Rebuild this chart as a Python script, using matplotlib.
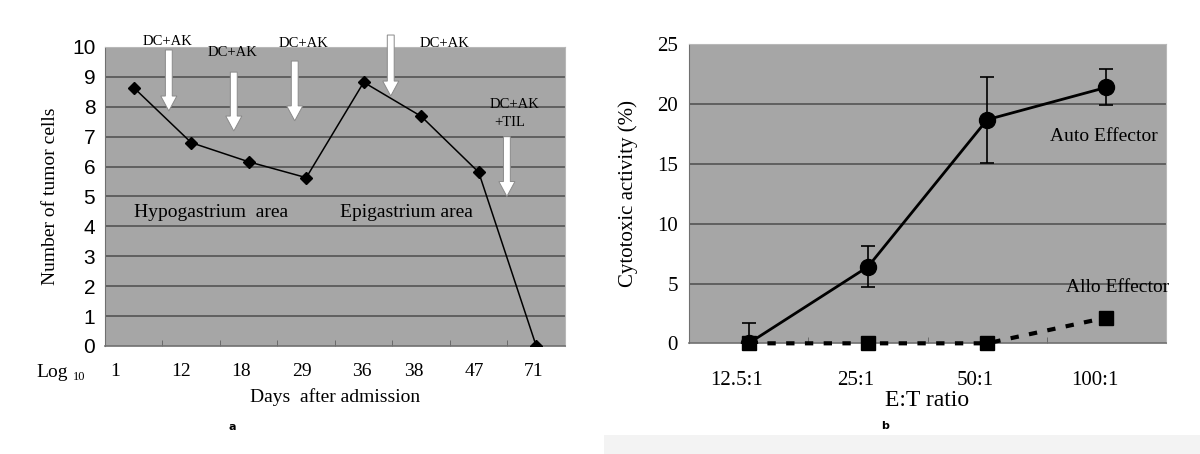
import matplotlib
matplotlib.use("Agg")
import matplotlib.pyplot as plt
import matplotlib.patches as mpatches
import numpy as np

# ---- panel a data ----
days = ["1", "12", "18", "29", "36", "38", "47", "71"]
tumor_cells = [8.64, 6.80, 6.16, 5.63, 8.82, 7.68, 5.81, 0.0]
# the day labels were typed a little left of each category
day_label_pos = [-0.33, 0.82, 1.87, 2.93, 3.97, 4.87, 5.92, 6.96]

# treatment arrows: category position, top, tip
arrow_x = [0.61, 1.74, 2.80, 4.47, 6.49]
arrow_top = [9.9, 9.16, 9.53, 10.4, 7.0]
arrow_tip = [7.86, 7.19, 7.53, 8.36, 5.0]

# ---- panel b data ----
ratios = ["12.5:1", "25:1", "50:1", "100:1"]
auto_eff = [0.0, 6.4, 18.7, 21.4]
auto_err = [1.7, 1.7, 3.6, 1.5]
allo_eff = [0.0, 0.0, 0.0, 2.15]

BG = "#a6a6a6"
GRID = "#545454"
SERIF = "Liberation Serif"

fig = plt.figure(figsize=(12, 4.54), dpi=100)
fig.patch.set_facecolor("white")

# light strip bottom right
fig.patches.append(mpatches.Rectangle((0.503, 0.0), 0.497, 0.042, transform=fig.transFigure,
                                      facecolor="#f3f3f3", edgecolor="none", zorder=0))

# ================= panel a =================
ax1 = fig.add_axes([0.0875, 0.2379, 0.3833, 0.6586])
ax1.set_facecolor(BG)
xa = np.arange(len(days))
ax1.set_xlim(-0.5, len(days) - 0.5)
ax1.set_ylim(0, 10)
for v in range(1, 10):
    ax1.axhline(v, color=GRID, lw=1.2, zorder=1)
ax1.plot(xa, tumor_cells, color="black", lw=1.1, marker="D", ms=6, zorder=3)

for sp in ["top", "right"]:
    ax1.spines[sp].set_color("#b8b8b8")
ax1.spines["left"].set_color("#707070")
ax1.spines["bottom"].set_color("#707070")
ax1.spines["bottom"].set_linewidth(1.2)

ax1.set_yticks(range(0, 11))
ax1.set_yticklabels([str(v) for v in range(0, 11)],
                    family=["Liberation Sans Narrow", "Liberation Sans"], fontsize=15)
ax1.tick_params(axis="y", length=0, pad=7)
ax1.set_xticks(day_label_pos)
ax1.set_xticklabels(days, family=SERIF, fontsize=14)
ax1.tick_params(axis="x", length=0, pad=12)
ax1.set_xticks(np.arange(0.5, len(days) - 1), minor=True)
ax1.tick_params(axis="x", which="minor", direction="in", length=4, color="#606060")

ax1.text(-0.15, -0.087, "Log", transform=ax1.transAxes, family=SERIF, fontsize=14,
         ha="left", va="center")
ax1.text(-0.07, -0.105, "10", transform=ax1.transAxes, family=SERIF, fontsize=9,
         ha="left", va="center")
ax1.set_xlabel("Days  after admission", family=SERIF, fontsize=14, labelpad=6)
ax1.set_ylabel("Number of tumor cells", family=SERIF, fontsize=14, labelpad=9)
ax1.text(0.277, -0.27, "a", transform=ax1.transAxes, fontsize=8, weight="bold",
         ha="center", va="center")

for x, t, b in zip(arrow_x, arrow_top, arrow_tip):
    ax1.arrow(x, t, 0, b - t, width=0.12, head_width=0.28, head_length=0.5,
              length_includes_head=True, fc="white", ec="#8a8a8a", lw=0.7,
              clip_on=False, zorder=4)

ann = dict(family=SERIF, fontsize=10.5, ha="center", va="center", zorder=5)
ax1.text(0.58, 10.2, "DC+AK", clip_on=False, **ann)
ax1.text(1.72, 9.8, "DC+AK", clip_on=False, **ann)
ax1.text(2.96, 10.13, "DC+AK", clip_on=False, **ann)
ax1.text(5.40, 10.13, "DC+AK", clip_on=False, **ann)
ax1.text(6.63, 8.09, "DC+AK", **ann)
ax1.text(6.54, 7.49, "+TIL", **ann)
ax1.text(1.34, 4.45, "Hypogastrium  area", family=SERIF, fontsize=14, ha="center",
         va="center")
ax1.text(4.75, 4.45, "Epigastrium area", family=SERIF, fontsize=14, ha="center",
         va="center")

# ================= panel b =================
ax2 = fig.add_axes([0.5742, 0.2438, 0.3975, 0.6586])
ax2.set_facecolor(BG)
xb = np.arange(len(ratios))
ax2.set_xlim(-0.5, len(ratios) - 0.5)
ax2.set_ylim(0, 25)
for v in range(5, 25, 5):
    ax2.axhline(v, color=GRID, lw=1.2, zorder=1)

ax2.errorbar(xb, auto_eff, yerr=auto_err, color="black", lw=2, marker="o", ms=11.5,
             capsize=5, elinewidth=1.2, capthick=1.2, zorder=4)
ax2.plot(xb, allo_eff, color="black", lw=3, ls=(0, (2, 2.5)), marker="s", ms=10,
         zorder=3, clip_on=False)

for sp in ["top", "right"]:
    ax2.spines[sp].set_color("#b8b8b8")
ax2.spines["left"].set_color("#707070")
ax2.spines["bottom"].set_color("#707070")
ax2.spines["bottom"].set_linewidth(1.2)

ax2.set_yticks(range(0, 26, 5))
ax2.set_yticklabels([str(v) for v in range(0, 26, 5)], family=SERIF, fontsize=15)
ax2.tick_params(axis="y", length=0, pad=8)
ax2.set_xticks(xb - 0.1)
ax2.set_xticklabels(ratios, family=SERIF, fontsize=15)
ax2.tick_params(axis="x", length=0, pad=20)
ax2.set_xticks(np.arange(0.5, len(ratios) - 1), minor=True)
ax2.tick_params(axis="x", which="minor", direction="in", length=4, color="#606060")

ax2.set_xlabel("E:T ratio", family=SERIF, fontsize=17, labelpad=0)
ax2.set_ylabel("Cytotoxic activity (%)", family=SERIF, fontsize=15, labelpad=14)
ax2.text(0.41, -0.275, "b", transform=ax2.transAxes, fontsize=8, weight="bold",
         ha="center", va="center")
ax2.text(2.98, 17.3, "Auto Effector", family=SERIF, fontsize=14, ha="center",
         va="center")
ax2.text(3.09, 4.7, "Allo Effector", family=SERIF, fontsize=14, ha="center",
         va="center", clip_on=False)

fig.savefig("out.png", dpi=100)
